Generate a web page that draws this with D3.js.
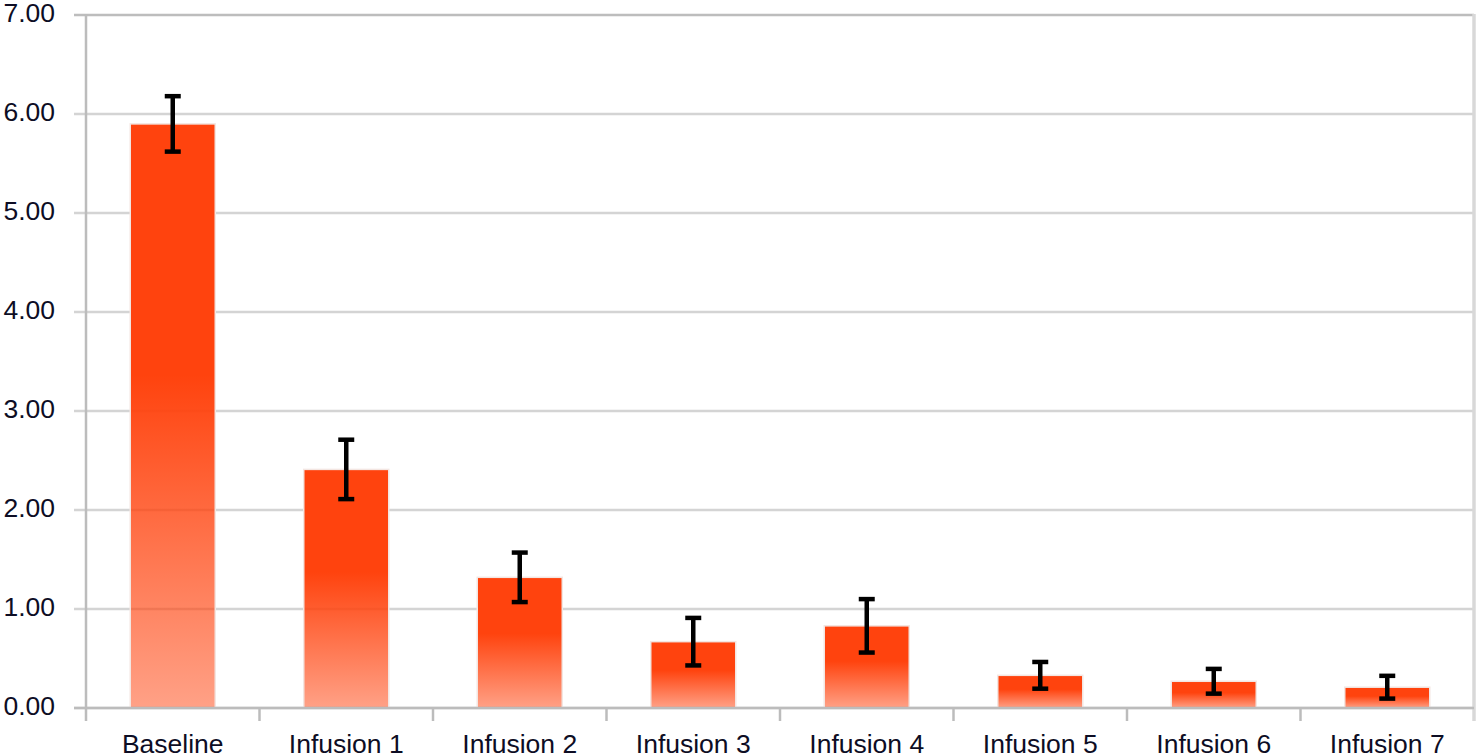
<!DOCTYPE html>
<html>
<head>
<meta charset="utf-8">
<script src="https://cdn.jsdelivr.net/npm/d3@7"></script>
<style>
  body { margin: 0; background: #fff; }
  svg { display: block; }
</style>
</head>
<body>
<div id="chart"></div>
<script>
// values
const categories = ["Baseline", "Infusion 1", "Infusion 2", "Infusion 3", "Infusion 4", "Infusion 5", "Infusion 6", "Infusion 7"];
const means = [5.90, 2.41, 1.32, 0.67, 0.83, 0.33, 0.27, 0.21];
const errors = [0.28, 0.30, 0.25, 0.24, 0.27, 0.135, 0.125, 0.115];
const yTicks = [0, 1, 2, 3, 4, 5, 6, 7];

const width = 1478, height = 756;
let margin = {left: 86, right: 4, top: 15, bottom: 48};

const svg = d3.select("#chart")
  .append("svg")
  .attr("width", width)
  .attr("height", height);

let x = d3.scaleBand()
  .domain(categories)
  .range([margin.left, width - margin.right])
  .paddingInner(0.51)
  .paddingOuter(0.255);

// band boundaries (for axis ticks)
let step = x.step();
let x0 = margin.left, x1 = width - margin.right;

let y = d3.scaleLinear()
  .domain([0, 7])
  .range([height - margin.bottom, margin.top]);

// gradient: solid on top, fading (semi transparent) to the bottom
let defs = svg.append("defs");
let grad = defs.append("linearGradient")
  .attr("id", "barGrad")
  .attr("x1", 0).attr("y1", 0)
  .attr("x2", 0).attr("y2", 1);
grad.append("stop").attr("offset", "0").attr("stop-color", "#ff430e").attr("stop-opacity", 1);
grad.append("stop").attr("offset", "0.43").attr("stop-color", "#ff430e").attr("stop-opacity", 1);
grad.append("stop").attr("offset", "1").attr("stop-color", "#ff430e").attr("stop-opacity", 0.5);

// gridlines
svg.append("g")
  .selectAll("line")
  .data(yTicks)
  .join("line")
    .attr("x1", x0 - 12)
    .attr("x2", x1)
    .attr("y1", d => y(d))
    .attr("y2", d => y(d))
    .attr("stroke", d => d === 7 ? "#bdbdbd" : "#d4d4d4")
    .attr("stroke-width", 2.5);

// right border
svg.append("line")
  .attr("x1", x1).attr("x2", x1)
  .attr("y1", y(7) - 1).attr("y2", y(0) + 13)
  .attr("stroke", "#d8d8d8")
  .attr("stroke-width", 3.5);

// y tick labels
svg.append("g")
  .selectAll("text")
  .data(yTicks)
  .join("text")
    .attr("x", 55)
    .attr("y", d => y(d) - 2)
    .attr("dy", "0.35em")
    .attr("text-anchor", "end")
    .attr("font-family", "Liberation Sans, Arial, sans-serif")
    .attr("font-size", "26.5px")
    .attr("fill", "#0d0d24")
    .text(d => d3.format(".2f")(d));

// bars
svg.append("g")
  .selectAll("rect")
  .data(means)
  .join("rect")
    .attr("x", (d, i) => x(categories[i]))
    .attr("width", x.bandwidth())
    .attr("y", d => y(d))
    .attr("height", d => y(0) - y(d))
    .attr("fill", "url(#barGrad)")
    .attr("stroke", "#f3e6e2")
    .attr("stroke-width", 1.5);

// axes
svg.append("line")
  .attr("x1", x0 - 12).attr("x2", x1)
  .attr("y1", y(0)).attr("y2", y(0))
  .attr("stroke", "#bcbcbc")
  .attr("stroke-width", 2.5);

svg.append("line")
  .attr("x1", x0).attr("x2", x0)
  .attr("y1", y(7) - 1).attr("y2", y(0) + 13)
  .attr("stroke", "#bcbcbc")
  .attr("stroke-width", 2.5);

svg.append("g")
  .selectAll("line")
  .data(d3.range(1, categories.length))
  .join("line")
    .attr("x1", i => x0 + i * step)
    .attr("x2", i => x0 + i * step)
    .attr("y1", y(0))
    .attr("y2", y(0) + 13)
    .attr("stroke", "#bcbcbc")
    .attr("stroke-width", 2.5);

// x labels
svg.append("g")
  .selectAll("text")
  .data(categories)
  .join("text")
    .attr("x", d => x(d) + x.bandwidth() / 2)
    .attr("y", 753)
    .attr("text-anchor", "middle")
    .attr("font-family", "Liberation Sans, Arial, sans-serif")
    .attr("font-size", "26.5px")
    .attr("fill", "#0d0d24")
    .text(d => d);

// error bars
let eb = svg.append("g")
  .attr("stroke", "#000")
  .attr("stroke-width", 4.5);

means.forEach((m, i) => {
  let cx = x(categories[i]) + x.bandwidth() / 2;
  let hi = y(m + errors[i]), lo = y(m - errors[i]);
  eb.append("line").attr("x1", cx).attr("x2", cx).attr("y1", hi).attr("y2", lo);
  eb.append("line").attr("x1", cx - 8).attr("x2", cx + 8).attr("y1", hi).attr("y2", hi);
  eb.append("line").attr("x1", cx - 8).attr("x2", cx + 8).attr("y1", lo).attr("y2", lo);
});
</script>
</body>
</html>
